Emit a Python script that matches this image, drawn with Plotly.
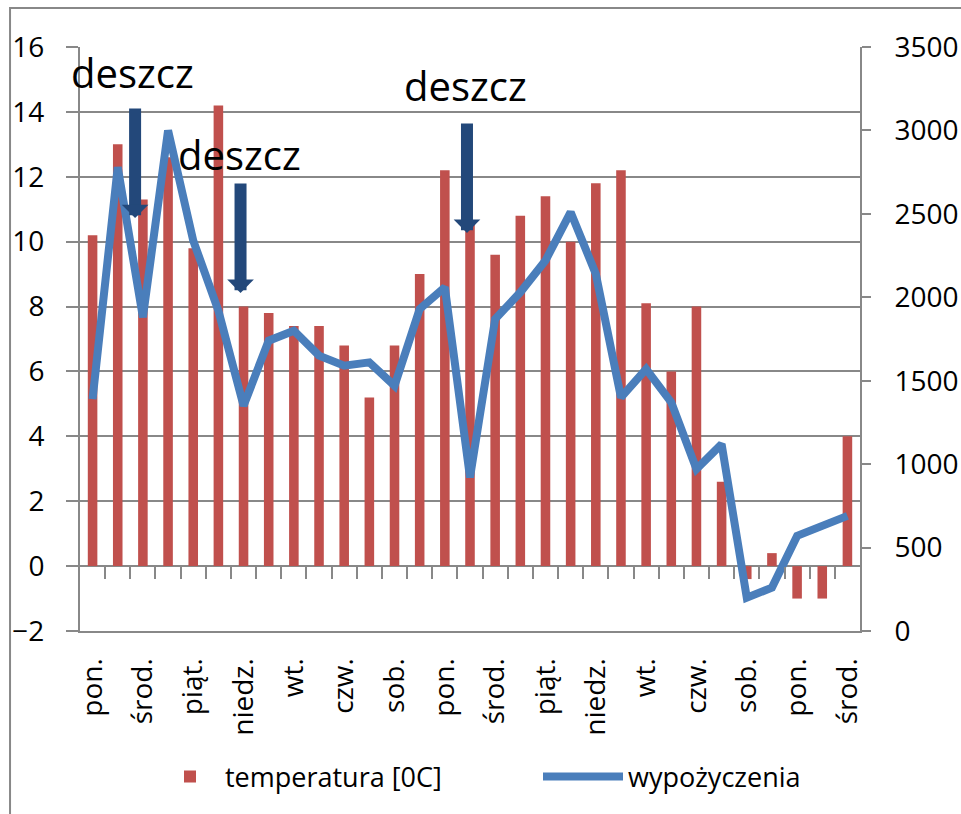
import plotly.graph_objects as go

# ---- data ----
days = ["pon.", "wt.", "środ.", "czw.", "piąt.", "sob.", "niedz.",
        "pon.", "wt.", "środ.", "czw.", "piąt.", "sob.", "niedz.",
        "pon.", "wt.", "środ.", "czw.", "piąt.", "sob.", "niedz.",
        "pon.", "wt.", "środ.", "czw.", "piąt.", "sob.", "niedz.",
        "pon.", "wt.", "środ."]
temperatura = [10.2, 13.0, 11.3, 12.6, 9.8, 14.2, 8.0, 7.8, 7.4, 7.4, 6.8,
               5.2, 6.8, 9.0, 12.2, 10.6, 9.6, 10.8, 11.4, 10.0, 11.8, 12.2,
               8.1, 6.0, 8.0, 2.6, -0.4, 0.4, -1.0, -1.0, 4.0]
wypozyczenia = [1390, 2780, 1880, 3000, 2340, 1920, 1350, 1740, 1800, 1650,
                1590, 1610, 1470, 1930, 2060, 920, 1870, 2030, 2220, 2510,
                2140, 1400, 1570, 1370, 970, 1120, 200, 260, 570, 630, 690]
left_ticks = [-2, 0, 2, 4, 6, 8, 10, 12, 14, 16]
right_ticks = [0, 500, 1000, 1500, 2000, 2500, 3000, 3500]
note_text = "deszcz"

idx = list(range(len(days)))
GRAY = "#888888"
FONT = "Open Sans"
TICK_SIZE = 28

fig = go.Figure()
fig.add_trace(go.Bar(x=idx, y=temperatura, name="temperatura [0C]",
                     marker=dict(color="#C0504D", line=dict(width=0)),
                     yaxis="y", legend="legend"))
fig.add_trace(go.Scatter(x=idx, y=wypozyczenia, name="wypożyczenia",
                         mode="lines", line=dict(color="#4A7EBB", width=8),
                         yaxis="y2", legend="legend2"))
# helper trace for the category tick marks on the zero line
fig.add_trace(go.Scatter(x=[], y=[], xaxis="x2", yaxis="y", showlegend=False,
                         hoverinfo="skip"))

xr = [-0.5, len(days) - 0.5]
zero_pos = (0 - left_ticks[0]) / (left_ticks[-1] - left_ticks[0])

annotations = []
# arrows
for ax_x, tip_y in [(1.69, 10.73), (5.88, 8.42), (14.88, 10.27)]:
    annotations.append(dict(x=ax_x, y=tip_y, xref="x", yref="y", text="",
                            showarrow=True, arrowhead=1, arrowsize=0.37,
                            arrowwidth=12, arrowcolor="#23487A",
                            ax=0, ay=-111, standoff=0))
# labels
for tx, ty in [(1.57, 14.3), (5.82, 11.78), (14.84, 13.9)]:
    annotations.append(dict(x=tx, y=ty, xref="x", yref="y", text=note_text,
                            showarrow=False, xanchor="center", yanchor="bottom",
                            font=dict(family=FONT, size=40, color="black")))

fig.update_layout(
    width=961, height=814,
    margin=dict(l=80, r=101, t=47, b=183, autoexpand=False),
    paper_bgcolor="white", plot_bgcolor="white",
    font=dict(family=FONT, size=27, color="black"),
    bargap=0.62,
    showlegend=True,
    legend=dict(orientation="h", x=(155 - 80) / 780, xanchor="left", y=-0.25,
                yanchor="middle", font=dict(family=FONT, size=27),
                itemwidth=60, borderwidth=0),
    legend2=dict(orientation="h", x=(538 - 80) / 780, xanchor="left", y=-0.25,
                 yanchor="middle", font=dict(family=FONT, size=27),
                 itemwidth=80, borderwidth=0),
    xaxis=dict(range=xr, tickmode="array", tickvals=idx[::2],
               ticktext=days[::2], tickangle=-90, ticks="",
               showgrid=False, zeroline=False, showline=True,
               linecolor=GRAY, linewidth=2, ticklabelstandoff=14,
               tickfont=dict(size=TICK_SIZE), automargin=False),
    xaxis2=dict(range=xr, overlaying="x", anchor="free", position=zero_pos,
                tickmode="array",
                tickvals=[i + 0.5 for i in idx[:-1]],
                ticks="outside", ticklen=12, tickwidth=2, tickcolor=GRAY,
                showticklabels=False, showgrid=False, zeroline=False,
                showline=False, automargin=False),
    yaxis=dict(range=[left_ticks[0], left_ticks[-1]], tickmode="array",
               tickvals=left_ticks, showgrid=True, gridcolor=GRAY,
               gridwidth=2, zeroline=True, zerolinecolor=GRAY,
               zerolinewidth=2, showline=True, linecolor=GRAY, linewidth=2,
               ticks="outside", ticklen=12, tickwidth=2, tickcolor=GRAY,
               ticklabelstandoff=16, tickfont=dict(size=TICK_SIZE),
               automargin=False),
    yaxis2=dict(range=[right_ticks[0], right_ticks[-1]], tickmode="array",
                tickvals=right_ticks, overlaying="y", side="right",
                showgrid=False, zeroline=False, showline=True,
                linecolor=GRAY, linewidth=2, ticks="outside", ticklen=9,
                tickwidth=2, tickcolor=GRAY, ticklabelstandoff=18,
                tickfont=dict(size=TICK_SIZE), automargin=False),
    annotations=annotations,
    shapes=[dict(type="rect", xref="paper", yref="paper",
                 x0=-0.0897, x1=1.14, y0=-0.33, y1=1.0668,
                 line=dict(color=GRAY, width=2), layer="below")],
)

fig.write_html(
    "out.html",
    config={"displayModeBar": False},
    post_script="document.body.style.margin='0';"
                "document.body.style.overflow='hidden';",
)
